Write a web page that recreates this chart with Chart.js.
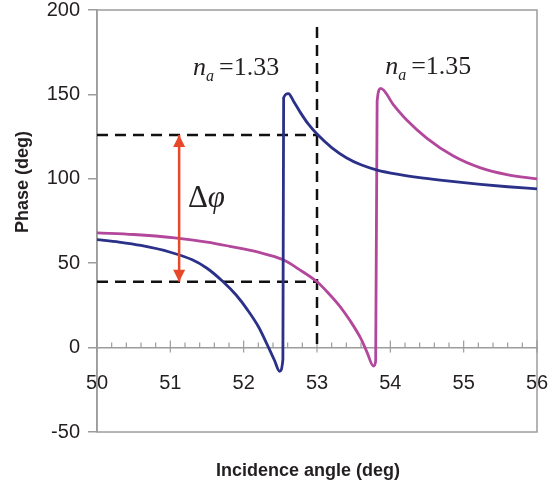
<!DOCTYPE html>
<html>
<head>
<meta charset="utf-8">
<script src="https://cdn.jsdelivr.net/npm/chart.js@4.4.1/dist/chart.umd.min.js"></script>
<style>
  html, body { margin: 0; padding: 0; background: #fff; }
  #wrap { width: 550px; height: 487px; }
</style>
</head>
<body>
<div id="wrap"><canvas id="phaseChart" width="550" height="487"></canvas></div>
<script>
// n_a = 1.33 (blue)
const blueAngles = [50, 50.3, 50.6, 51.0, 51.3, 51.5, 51.72, 51.9, 52.05, 52.2, 52.34, 52.42, 52.49, 52.535, 52.545, 52.61, 52.68, 52.77, 52.88, 53.0, 53.2, 53.4, 53.6, 53.82, 54.13, 54.4, 54.68, 55.0, 55.23, 55.6, 56.0];
const bluePhase  = [64, 62.5, 60.5, 56.5, 52, 47, 39, 31, 22.5, 12.5, 0, -7.5, -14, -7, 148, 150.5, 146, 139.5, 132.5, 126.5, 118.5, 112.5, 108.3, 105.2, 102.5, 100.7, 99.2, 97.7, 96.7, 95.3, 94];

// n_a = 1.35 (magenta)
const pinkAngles = [50, 50.5, 51.06, 51.5, 51.81, 52.2, 52.54, 52.75, 53.0, 53.15, 53.32, 53.45, 53.59, 53.68, 53.77, 53.8, 53.82, 53.87, 54.04, 54.22, 54.5, 54.86, 55.23, 55.59, 56.0];
const pinkPhase  = [68, 67, 65, 62.5, 60, 56.5, 52, 46.5, 39, 32.5, 24, 16, 6, -2.5, -11, -8, 146, 153.6, 144, 135, 124, 113.5, 106.5, 102.5, 100];

// guide lines and the delta-phi arrow
const phaseHigh = 126;
const phaseLow = 39;
const markAngle = 53;
const markTop = 190;
const arrowAngle = 51.12;

const AXIS_GREY = "#9c9c9c";
const TEXT = "#231f20";
const SANS = "'Liberation Sans', Arial, sans-serif";
const SERIF = "'Liberation Serif', 'Times New Roman', serif";

const pts = (xs, ys) => xs.map((x, i) => ({ x, y: ys[i] }));

const dashed = (data) => ({
  data, borderColor: "#111", borderWidth: 2.5, borderDash: [11, 7],
  pointRadius: 0, fill: false, order: 2,
});

const decor = {
  id: "decor",
  beforeDatasetsDraw(chart) {
    const { ctx, chartArea: a, scales: { x, y } } = chart;
    ctx.save();
    ctx.strokeStyle = AXIS_GREY;
    ctx.lineWidth = 1.5;
    ctx.strokeRect(a.left, a.top, a.right - a.left, a.bottom - a.top);
    // tick marks on the zero line
    const y0 = y.getPixelForValue(0);
    ctx.lineWidth = 1.2;
    for (let i = 0; i <= 30; i++) {
      const px = x.getPixelForValue(50 + i * 0.2);
      const major = i % 5 === 0;
      ctx.beginPath();
      ctx.moveTo(px, y0 - (major ? 7 : 5));
      ctx.lineTo(px, y0 + (major ? 5 : 0));
      ctx.stroke();
    }
    ctx.restore();
  },
  afterDatasetsDraw(chart) {
    const { ctx, scales: { x, y } } = chart;
    ctx.save();

    // arrowheads
    const meta = chart.getDatasetMeta(5);
    const [top, bot] = meta.data;
    ctx.fillStyle = "#e8482a";
    ctx.beginPath();
    ctx.moveTo(top.x, top.y);
    ctx.lineTo(top.x - 6, top.y + 12);
    ctx.lineTo(top.x + 6, top.y + 12);
    ctx.closePath();
    ctx.fill();
    ctx.beginPath();
    ctx.moveTo(bot.x, bot.y);
    ctx.lineTo(bot.x - 6, bot.y - 12);
    ctx.lineTo(bot.x + 6, bot.y - 12);
    ctx.closePath();
    ctx.fill();

    // n_a labels
    ctx.fillStyle = TEXT;
    ctx.textBaseline = "alphabetic";
    const naLabel = (angle, phase, value) => {
      let px = x.getPixelForValue(angle);
      const py = y.getPixelForValue(phase);
      ctx.font = "italic 26px " + SERIF;
      ctx.fillText("n", px, py);
      px += ctx.measureText("n").width;
      ctx.font = "italic 16px " + SERIF;
      ctx.fillText("a", px, py + 6);
      px += ctx.measureText("a").width + 5;
      ctx.font = "26px " + SERIF;
      ctx.fillText("=" + value, px, py);
    };
    naLabel(51.31, 161.5, "1.33");
    naLabel(53.93, 162, "1.35");

    // delta phi
    let dx = x.getPixelForValue(51.24);
    const dy = y.getPixelForValue(83);
    ctx.font = "31px " + SERIF;
    ctx.fillText("\u0394", dx, dy);
    dx += ctx.measureText("\u0394").width;
    ctx.font = "italic 31px " + SERIF;
    ctx.fillText("\u03C6", dx, dy);

    // axis titles
    ctx.font = "bold 18px " + SANS;
    ctx.textAlign = "center";
    ctx.textBaseline = "middle";
    ctx.fillText("Incidence angle (deg)", 308, 471);
    ctx.translate(23, 182);
    ctx.rotate(-Math.PI / 2);
    ctx.fillText("Phase (deg)", 0, 0);
    ctx.restore();
  },
};

Chart.defaults.font.family = SANS;

new Chart(document.getElementById("phaseChart"), {
  type: "line",
  data: {
    datasets: [
      {
        label: "n_a = 1.33", data: pts(blueAngles, bluePhase),
        borderColor: "#2b3088", borderWidth: 2.8, pointRadius: 0,
        cubicInterpolationMode: "monotone", fill: false, order: 1,
      },
      {
        label: "n_a = 1.35", data: pts(pinkAngles, pinkPhase),
        borderColor: "#b3479b", borderWidth: 2.8, pointRadius: 0,
        cubicInterpolationMode: "monotone", fill: false, order: 1,
      },
      dashed([{ x: 50, y: phaseHigh }, { x: markAngle, y: phaseHigh }]),
      dashed([{ x: 50, y: phaseLow }, { x: markAngle, y: phaseLow }]),
      dashed([{ x: markAngle, y: markTop }, { x: markAngle, y: 0 }]),
      {
        data: [{ x: arrowAngle, y: phaseHigh }, { x: arrowAngle, y: phaseLow }],
        borderColor: "#e8482a", borderWidth: 2.5, pointRadius: 0, fill: false, order: 0,
      },
    ],
  },
  options: {
    responsive: false,
    animation: false,
    layout: { padding: { left: 0, top: 10, right: 13, bottom: 55 } },
    plugins: { legend: { display: false }, tooltip: { enabled: false } },
    scales: {
      x: {
        type: "linear", min: 50, max: 56,
        position: { y: 0 },
        ticks: { stepSize: 1, padding: 16, color: TEXT, font: { size: 20 } },
        grid: { display: false },
        border: { display: true, color: AXIS_GREY, width: 1.5 },
        afterFit(s) { s.paddingLeft = 0; s.paddingRight = 0; },
      },
      y: {
        min: -50, max: 200,
        ticks: { stepSize: 50, padding: 8, color: TEXT, font: { size: 20 } },
        grid: { drawOnChartArea: false, tickLength: 9, color: AXIS_GREY, lineWidth: 1.5 },
        border: { color: AXIS_GREY, width: 1.5 },
        afterFit(s) { s.width = 97; s.paddingTop = 0; s.paddingBottom = 0; },
      },
    },
  },
  plugins: [decor],
});
</script>
</body>
</html>
